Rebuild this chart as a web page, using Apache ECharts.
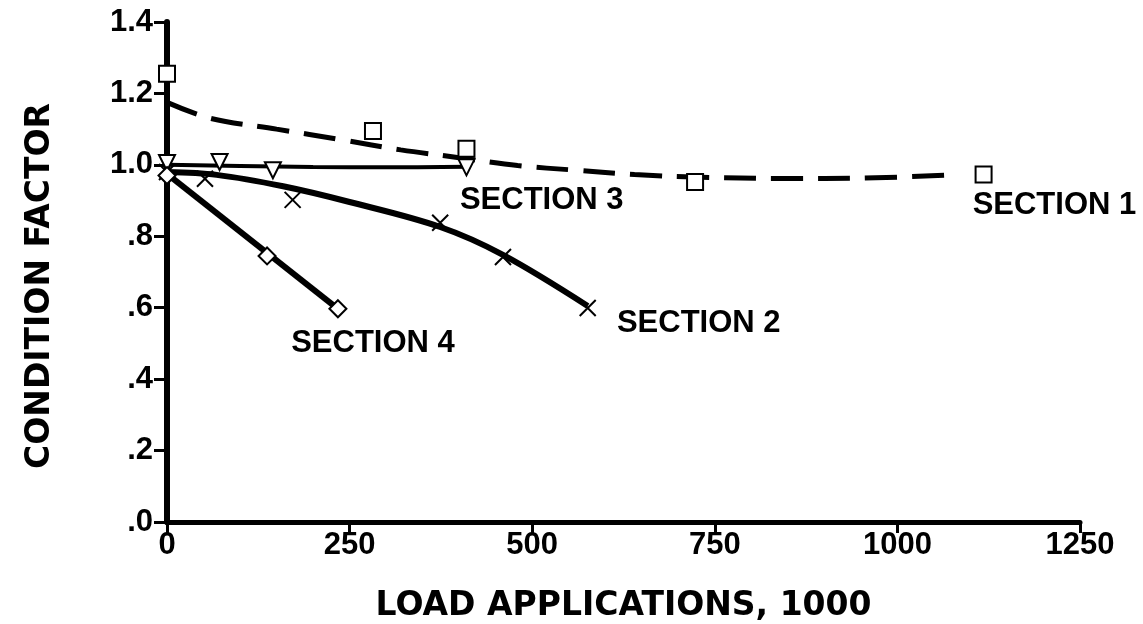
<!DOCTYPE html>
<html>
<head>
<meta charset="utf-8">
<script src="https://cdn.jsdelivr.net/npm/echarts@6/dist/echarts.min.js"></script>
<style>
html,body{margin:0;padding:0;background:#fff;}
#chart{width:1143px;height:624px;}
</style>
</head>
<body>
<div id="chart"></div>
<script>
// ---- data (x = load applications in thousands, y = condition factor) ----
const xTicks = [0, 250, 500, 750, 1000, 1250];
const yTickLabels = ['.0', '.2', '.4', '.6', '.8', '1.0', '1.2', '1.4'];

const section1Points = [[0, 1.255], [282, 1.095], [410, 1.045], [723, 0.952], [1118, 0.973]];
const section1Curve = [[0, 1.175], [60, 1.13], [150, 1.10], [240, 1.07], [320, 1.042], [400, 1.02], [480, 0.998], [560, 0.985], [640, 0.973], [720, 0.966], [850, 0.962], [950, 0.963], [1080, 0.972]];

const section2Points = [[0, 0.98], [52, 0.961], [172, 0.902], [374, 0.838], [460, 0.742], [576, 0.599]];
const section2Curve = [[0, 0.98], [68, 0.972], [159, 0.94], [250, 0.896], [374, 0.826], [460, 0.748], [576, 0.605]];

const section3Points = [[0, 1.005], [72, 1.008], [145, 0.985], [410, 0.993]];
const section3Curve = [[0, 1.0], [100, 0.997], [200, 0.994], [300, 0.993], [410, 0.995]];

const section4Points = [[0, 0.97], [137, 0.745], [234, 0.597]];
const section4Curve = [[0, 0.975], [234, 0.597]];

const sectionNames = ['SECTION 1', 'SECTION 2', 'SECTION 3', 'SECTION 4'];
const sectionLabelAnchors = [[1103, 0.885], [616, 0.557], [401, 0.899], [170, 0.501]];

// ---- chart ----
const chart = echarts.init(document.getElementById('chart'), null, {renderer: 'canvas'});
const tickFont = {fontFamily: '"Liberation Sans Narrow", "Liberation Sans", Arial, sans-serif', fontWeight: 'bold', fontSize: 31, color: '#000'};
const titleFont = {fontFamily: '"DejaVu Sans", sans-serif', fontWeight: 'bold', fontSize: 33, color: '#000'};

function curveSeries(data, width, type) {
  return {
    type: 'line', data: data, smooth: 0.35, symbol: 'none', z: 2,
    lineStyle: {color: '#000', width: width, type: type, cap: 'butt'}
  };
}
function markerSeries(data, symbol, size, rotate) {
  return {
    type: 'scatter', data: data, symbol: symbol, symbolSize: size, symbolRotate: rotate || 0, z: 5,
    itemStyle: {color: '#fff', borderColor: '#000', borderWidth: 2, opacity: 1}
  };
}

const option = {
  backgroundColor: '#fff',
  animation: false,
  grid: {left: 167, right: 63, top: 22, bottom: 102, containLabel: false, outerBoundsMode: 'none'},
  xAxis: {
    type: 'value', min: xTicks[0], max: xTicks[xTicks.length - 1], interval: 250,
    name: 'LOAD APPLICATIONS, 1000', nameLocation: 'middle', nameGap: 68,
    nameTextStyle: titleFont,
    axisLine: {show: true, onZero: false, lineStyle: {color: '#000', width: 5}},
    axisTick: {show: true, length: 11, lineStyle: {color: '#000', width: 3}},
    axisLabel: Object.assign({margin: 8, formatter: v => String(v)}, tickFont),
    splitLine: {show: false}
  },
  yAxis: {
    type: 'value', min: 0, max: 1.4, interval: 0.2,
    name: 'CONDITION FACTOR', nameLocation: 'middle', nameGap: 110, nameRotate: 90,
    nameTextStyle: Object.assign({padding: [0, 28, 0, 0]}, titleFont),
    axisLine: {show: true, lineStyle: {color: '#000', width: 6}},
    axisTick: {show: true, length: 13, lineStyle: {color: '#000', width: 3}},
    axisLabel: Object.assign({margin: 14, formatter: v => yTickLabels[Math.round(v / 0.2)]}, tickFont),
    splitLine: {show: false}
  },
  series: [
    curveSeries(section1Curve, 5, [32, 15]),
    curveSeries(section2Curve, 6, 'solid'),
    curveSeries(section3Curve, 4, 'solid'),
    curveSeries(section4Curve, 6, 'solid'),
    markerSeries(section1Points, 'rect', 16),
    markerSeries(section2Points, 'path://M0,0L10,10M10,0L0,10', 16),
    markerSeries(section3Points, 'triangle', 16, 180),
    markerSeries(section4Points, 'diamond', 17),
    {
      type: 'scatter', symbolSize: 0, z: 6, silent: true,
      itemStyle: {opacity: 1, color: '#000'},
      data: sectionLabelAnchors.map((p, i) => ({value: p, name: sectionNames[i]})),
      label: {
        show: true, position: 'right', distance: 0,
        formatter: p => p.name,
        fontFamily: '"Liberation Sans", Arial, sans-serif', fontWeight: 'bold', fontSize: 31, color: '#000'
      }
    }
  ]
};
chart.setOption(option);
</script>
</body>
</html>
